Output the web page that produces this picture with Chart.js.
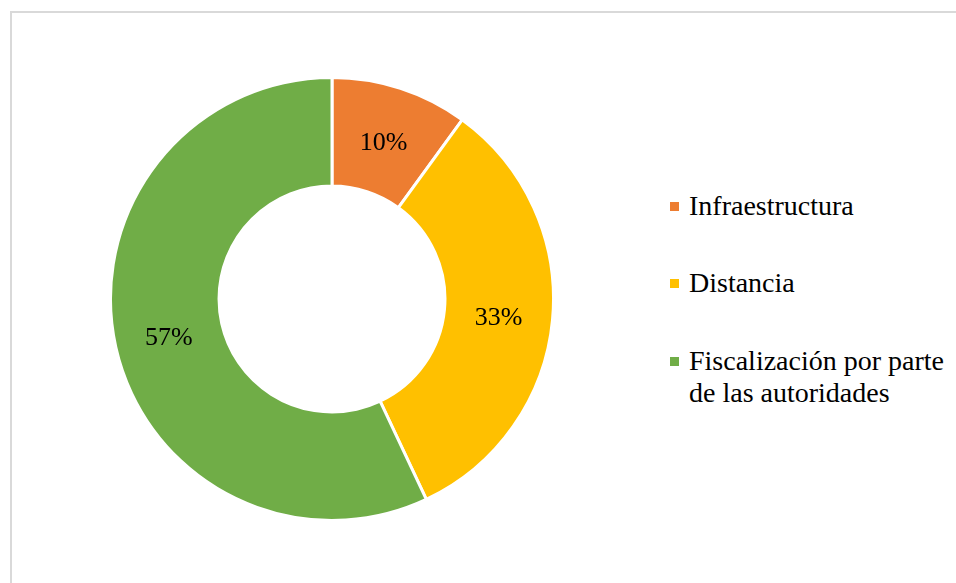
<!DOCTYPE html>
<html lang="es">
<head>
    <meta charset="UTF-8">
    <title>Grafico</title>
    <script src="https://cdn.jsdelivr.net/npm/chart.js"></script>
    <style>
      body{
        margin: 0;
        background: #ffffff;
        width: 956px;
        height: 583px;
        overflow: hidden;
        position: relative;
        font-family: 'Liberation Serif', Tinos, Times, 'DejaVu Serif', serif;
      }
      .frame{
        position: absolute;
        left: 10px;
        top: 11px;
        width: 1000px;
        height: 700px;
        border-left: 2px solid #d9d9d9;
        border-top: 2px solid #d9d9d9;
      }
      .pie{
        position: absolute;
        left: 109px;
        top: 76px;
        width: 446px;
        height: 446px;
      }
      .legend-item{
        position: absolute;
        left: 689px;
        font-size: 28px;
        line-height: 32px;
        color: #000;
        white-space: nowrap;
      }
      .legend-item .box{
        position: absolute;
        left: -19px;
        top: 12px;
        width: 9px;
        height: 9px;
      }
    </style>
</head>
<body>
  <div class="frame"></div>
  <div class="pie"><canvas id="pieChart" width="446" height="446"></canvas></div>
  <div id="legend"></div>

  <script>
    const categories = ['Infraestructura', 'Distancia', 'Fiscalización por parte de las autoridades'];
    const legendLines = [['Infraestructura'], ['Distancia'], ['Fiscalización por parte', 'de las autoridades']];
    const percentages = [10, 33, 57];
    const colors = ['#ED7D31', '#FFC000', '#70AD47'];

    // percentage labels at the middle of each arc
    const arcLabels = {
      id: 'arcLabels',
      afterDatasetsDraw(chart) {
        const ctx = chart.ctx;
        const meta = chart.getDatasetMeta(0);
        ctx.save();
        ctx.font = "26px 'Liberation Serif', Tinos, Times, 'DejaVu Serif', serif";
        ctx.fillStyle = '#000';
        ctx.textAlign = 'center';
        ctx.textBaseline = 'middle';
        meta.data.forEach((arc, i) => {
          const p = arc.getCenterPoint();
          ctx.fillText(percentages[i] + '%', p.x, p.y + 3);
        });
        ctx.restore();
      }
    };

    new Chart(document.getElementById('pieChart'), {
      type: 'doughnut',
      data: {
        labels: categories,
        datasets: [{
          data: percentages,
          backgroundColor: colors,
          borderColor: '#ffffff',
          borderWidth: 3
        }]
      },
      options: {
        responsive: false,
        animation: false,
        cutout: '51%',
        layout: { padding: 0 },
        plugins: {
          legend: { display: false },
          tooltip: { enabled: false }
        }
      },
      plugins: [arcLabels]
    });

    // legend on the right
    const legendTops = [190, 267, 345];
    const legend = document.getElementById('legend');
    legendLines.forEach((lines, i) => {
      const item = document.createElement('div');
      item.className = 'legend-item';
      item.style.top = legendTops[i] + 'px';
      item.innerHTML = '<span class="box" style="background:' + colors[i] + '"></span>' + lines.join('<br>');
      legend.appendChild(item);
    });
  </script>
</body>
</html>
